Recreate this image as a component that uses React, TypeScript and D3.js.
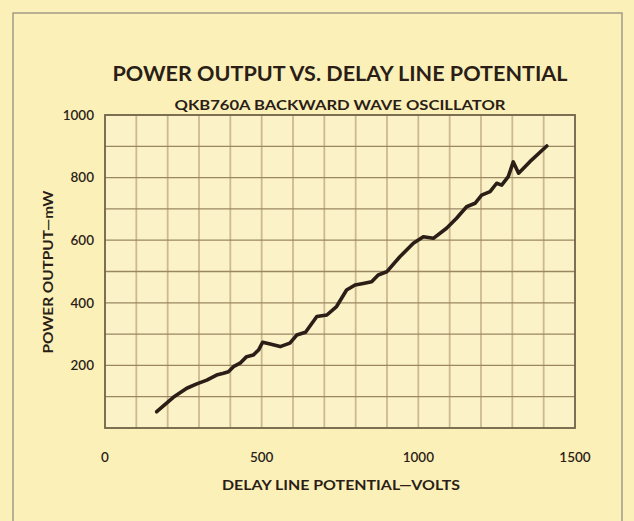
import React from 'react';
import { scaleLinear, line, curveLinear, range } from 'd3';

// delay line potential (V) and power output (mW)
const volts = [
  165, 218, 261, 293, 325, 356, 378, 394, 410, 431, 452, 473, 490, 503, 527,
  559, 590, 612, 640, 676, 708, 739, 771, 798, 824, 851, 872, 899, 941, 984,
  1016, 1048, 1090, 1122, 1154, 1181, 1202, 1229, 1250, 1266, 1287, 1303, 1320,
  1356, 1410,
];
const power = [
  52, 98, 127, 141, 153, 169, 175, 180, 196, 207, 228, 233, 249, 274, 268, 260,
  271, 297, 306, 356, 361, 388, 441, 457, 462, 467, 489, 499, 547, 590, 611,
  606, 638, 670, 707, 718, 744, 755, 782, 776, 803, 850, 814, 851, 901,
];
const xTickLabels = [0, 500, 1000, 1500];
const yTickLabels = [200, 400, 600, 800, 1000];

const title = 'POWER OUTPUT VS. DELAY LINE POTENTIAL';
const subtitle = 'QKB760A BACKWARD WAVE OSCILLATOR';
const xTitle = 'DELAY LINE POTENTIAL\u2014VOLTS';
const yTitle = 'POWER OUTPUT\u2014mW';

const W = 634;
const H = 521;
const plot = { left: 105, right: 575, top: 115, bottom: 428 };
const font = 'Lato, "Noto Sans", sans-serif';
const ink = '#2a1e16';

export default function App() {
  const x = scaleLinear().domain([0, 1500]).range([plot.left, plot.right]);
  const y = scaleLinear().domain([0, 1000]).range([plot.bottom, plot.top]);

  const pts: [number, number][] = volts.map((v, i) => [v, power[i]]);
  const path = line<[number, number]>()
    .x(d => x(d[0]))
    .y(d => y(d[1]))
    .curve(curveLinear)(pts);

  const xGrid = range(100, 1500, 100);
  const yGrid = range(100, 1000, 100);
  const cx = (plot.left + plot.right) / 2;

  return (
    <svg
      width={W}
      height={H}
      style={{ position: 'fixed', left: 0, top: 0, background: '#fcf0b9' }}
    >
      <rect x={0} y={0} width={W} height={H} fill='#fcf0b9' />
      {/* outer frame of the page */}
      <path
        d={`M13,${H} L13,13 L622,13 L622,${H}`}
        fill='none'
        stroke='#a39a88'
        strokeWidth={1.5}
      />
      <rect
        x={plot.left}
        y={plot.top}
        width={plot.right - plot.left}
        height={plot.bottom - plot.top}
        fill='#fbf2c8'
      />
      {/* grid: soft verticals, sharper horizontals */}
      <g>
        {xGrid.map(v => (
          <line
            key={'gx' + v}
            x1={x(v)}
            x2={x(v)}
            y1={plot.top}
            y2={plot.bottom}
            stroke='#cdb98e'
            strokeWidth={1.8}
          />
        ))}
        {yGrid.map(v => (
          <line
            key={'gy' + v}
            x1={plot.left}
            x2={plot.right}
            y1={y(v)}
            y2={y(v)}
            stroke='#9a8660'
            strokeWidth={1.3}
          />
        ))}
      </g>
      <rect
        x={plot.left}
        y={plot.top}
        width={plot.right - plot.left}
        height={plot.bottom - plot.top}
        fill='none'
        stroke='#6e6248'
        strokeWidth={1.8}
      />
      {/* data curve */}
      <path
        d={path || ''}
        fill='none'
        stroke={ink}
        strokeWidth={3.6}
        strokeLinejoin='round'
        strokeLinecap='round'
      />
      {/* tick labels */}
      <g fontFamily={font} fontSize={13.5} fontWeight={600} fill={ink}>
        {yTickLabels.map(v => (
          <text key={'yl' + v} x={94} y={y(v)} textAnchor='end' dy='0.36em'>
            {v}
          </text>
        ))}
        {xTickLabels.map(v => (
          <text key={'xl' + v} x={x(v)} y={457} textAnchor='middle' dy='0.36em'>
            {v}
          </text>
        ))}
      </g>
      {/* titles */}
      <g fontFamily={font} fontWeight={700} fill={ink} textAnchor='middle'>
        <text
          x={cx}
          y={81}
          fontSize={21}
          textLength={455}
          lengthAdjust='spacingAndGlyphs'
        >
          {title}
        </text>
        <text
          x={cx}
          y={110}
          fontSize={13.5}
          textLength={331}
          lengthAdjust='spacingAndGlyphs'
        >
          {subtitle}
        </text>
        <text
          x={cx + 1}
          y={490}
          fontSize={14}
          textLength={238}
          lengthAdjust='spacingAndGlyphs'
        >
          {xTitle}
        </text>
        <text
          transform={`translate(53, 272) rotate(-90)`}
          fontSize={14}
          textLength={163}
          lengthAdjust='spacingAndGlyphs'
        >
          {yTitle}
        </text>
      </g>
    </svg>
  );
}
